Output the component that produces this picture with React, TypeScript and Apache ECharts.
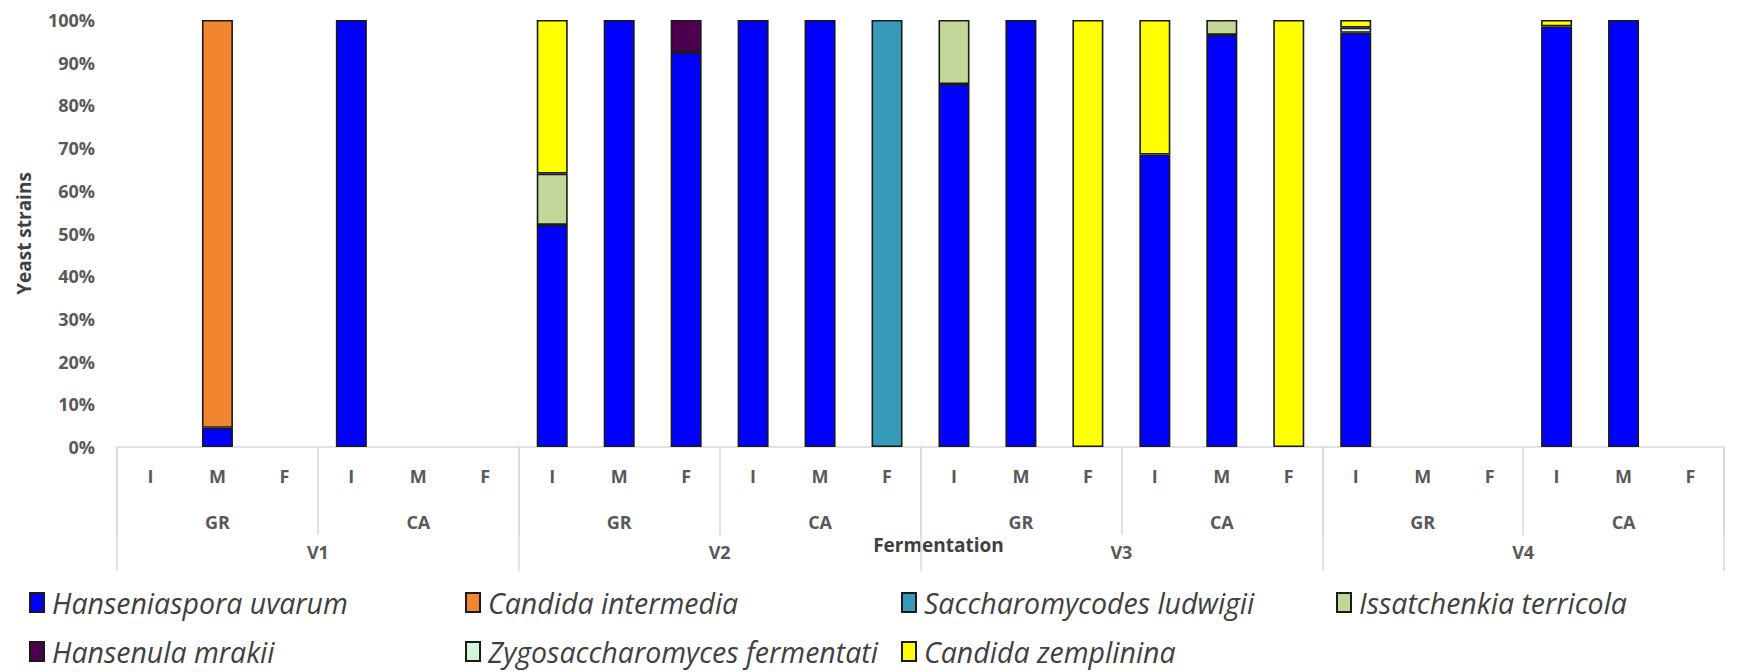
import React, { useEffect, useRef } from "react";
import * as echarts from "echarts";

const stages = ["I", "M", "F", "I", "M", "F", "I", "M", "F", "I", "M", "F", "I", "M", "F", "I", "M", "F", "I", "M", "F", "I", "M", "F"];
const sites = ["GR", "CA", "GR", "CA", "GR", "CA", "GR", "CA"];
const vineyards = ["V1", "V2", "V3", "V4"];

const hanseniaspora = [null, 4.5, null, 100, null, null, 52, 100, 92.5, 100, 100, null, 85, 100, null, 68.5, 96.5, null, 97, null, null, 98.5, 100, null];
const candidaIntermedia = [null, 95.5, null, null, null, null, null, null, null, null, null, null, null, null, null, null, null, null, null, null, null, null, null, null];
const saccharomycodes = [null, null, null, null, null, null, null, null, null, null, null, 100, null, null, null, null, null, null, null, null, null, null, null, null];
const issatchenkia = [null, null, null, null, null, null, 12, null, null, null, null, null, 15, null, null, null, 3.5, null, null, null, null, null, null, null];
const hansenula = [null, null, null, null, null, null, null, null, 7.5, null, null, null, null, null, null, null, null, null, null, null, null, null, null, null];
const zygosaccharomyces = [null, null, null, null, null, null, null, null, null, null, null, null, null, null, null, null, null, null, 1.2, null, null, null, null, null];
const candidaZemplinina = [null, null, null, null, null, null, 36, null, null, null, null, null, null, null, 100, 31.5, null, 100, 1.8, null, null, 1.5, null, null];

const seriesDefs = [
  { name: "Hanseniaspora uvarum", data: hanseniaspora, color: "#0000FF" },
  { name: "Candida intermedia", data: candidaIntermedia, color: "#F28530" },
  { name: "Saccharomycodes ludwigii", data: saccharomycodes, color: "#379AB8" },
  { name: "Issatchenkia terricola", data: issatchenkia, color: "#C4D79B" },
  { name: "Hansenula mrakii", data: hansenula, color: "#4D004D" },
  { name: "Zygosaccharomyces fermentati", data: zygosaccharomyces, color: "#D5F5D8" },
  { name: "Candida zemplinina", data: candidaZemplinina, color: "#FFFF00" },
];

const legendColumns = [
  ["Hanseniaspora uvarum", "Hansenula mrakii"],
  ["Candida intermedia", "Zygosaccharomyces fermentati"],
  ["Saccharomycodes ludwigii", "Candida zemplinina"],
  ["Issatchenkia terricola"],
];
const legendLefts = [24, 460, 896, 1331];

const FONT = "'Open Sans', 'DejaVu Sans', sans-serif";
const LABEL = { fontFamily: FONT, fontSize: 18, fontWeight: "bold", color: "#595959" };
const SEP = "#d9d9d9";

export default function App() {
  const ref = useRef<HTMLDivElement>(null);
  useEffect(() => {
    if (!ref.current) return;
    const chart = echarts.init(ref.current, null, { renderer: "svg" });
    chart.setOption({
      animation: false,
      backgroundColor: "#ffffff",
      grid: { left: 117, right: 26, top: 20, bottom: 225, containLabel: false },
      legend: legendColumns.map((col, i) => ({
        data: col,
        orient: "vertical",
        left: legendLefts[i],
        top: 583,
        itemWidth: 14,
        itemHeight: 19,
        itemGap: 20,
        icon: "rect",
        selectedMode: false,
        textStyle: { fontFamily: FONT, fontSize: 28.5, fontStyle: "italic", color: "#404040", padding: [0, 0, 0, 3] },
      })),
      xAxis: [
        {
          type: "category",
          data: stages,
          position: "bottom",
          axisLine: { show: true, lineStyle: { color: SEP, width: 1.5 } },
          axisTick: { show: false },
          axisLabel: { ...LABEL, interval: 0, margin: 20 },
        },
        {
          type: "category",
          data: sites,
          position: "bottom",
          axisLine: { show: false },
          axisTick: { show: true, interval: 0, length: 88, lineStyle: { color: SEP, width: 1.5 } },
          axisLabel: { ...LABEL, interval: 0, margin: 66 },
        },
        {
          type: "category",
          data: vineyards,
          position: "bottom",
          axisLine: { show: false },
          axisTick: { show: true, interval: 0, length: 124, lineStyle: { color: SEP, width: 1.5 } },
          axisLabel: { ...LABEL, interval: 0, margin: 96 },
          name: "Fermentation",
          nameLocation: "middle",
          nameGap: 88,
          nameMoveOverlap: false,
          nameTextStyle: { fontFamily: FONT, fontSize: 19, fontWeight: "bold", color: "#404040", padding: [0, 0, 0, 36] },
        },
      ],
      yAxis: {
        type: "value",
        min: 0,
        max: 100,
        interval: 10,
        axisLine: { show: false },
        axisTick: { show: false },
        splitLine: { show: false },
        axisLabel: { ...LABEL, margin: 22, formatter: "{value}%" },
        name: "Yeast strains",
        nameLocation: "middle",
        nameGap: 84,
        nameMoveOverlap: false,
        nameTextStyle: { fontFamily: FONT, fontSize: 19, fontWeight: "bold", color: "#404040" },
      },
      series: seriesDefs.map((s) => ({
        name: s.name,
        type: "bar",
        stack: "total",
        xAxisIndex: 0,
        barWidth: 31,
        data: s.data.map((v) => (v === null ? "-" : v)),
        itemStyle: { color: s.color, borderColor: "#1a1a1a", borderWidth: 1.6 },
      })),
    });
    return () => chart.dispose();
  }, []);
  return <div ref={ref} style={{ position: "fixed", left: 0, top: 0, width: 1750, height: 672 }} />;
}
